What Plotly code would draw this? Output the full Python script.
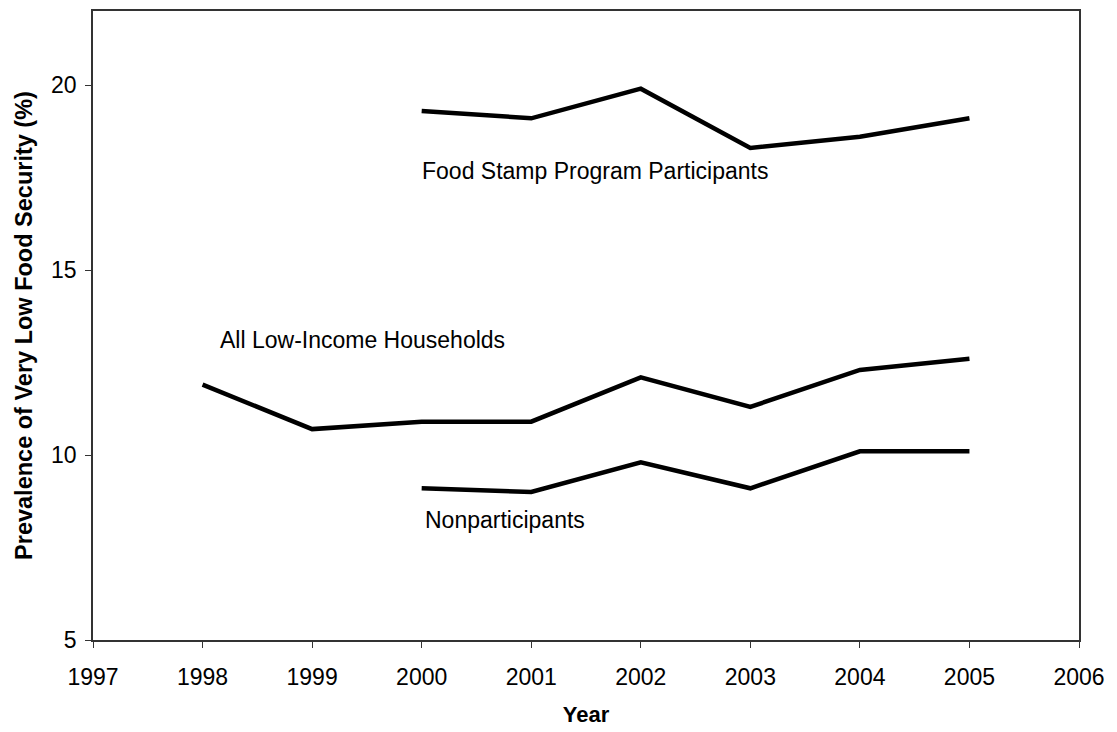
import plotly.graph_objects as go

# Prevalence of very low food security (%) by year
years_all = [1998, 1999, 2000, 2001, 2002, 2003, 2004, 2005]
all_low_income = [11.9, 10.7, 10.9, 10.9, 12.1, 11.3, 12.3, 12.6]

years_fsp = [2000, 2001, 2002, 2003, 2004, 2005]
fsp_participants = [19.3, 19.1, 19.9, 18.3, 18.6, 19.1]
nonparticipants = [9.1, 9.0, 9.8, 9.1, 10.1, 10.1]

x_ticks = list(range(1997, 2007))
y_ticks = [5, 10, 15, 20]

FONT = "Liberation Sans, Arial, sans-serif"
line_style = dict(color="black", width=4.5)

fig = go.Figure()
fig.add_trace(go.Scatter(x=years_fsp, y=fsp_participants, mode="lines",
                         line=line_style, name="Food Stamp Program Participants"))
fig.add_trace(go.Scatter(x=years_all, y=all_low_income, mode="lines",
                         line=line_style, name="All Low-Income Households"))
fig.add_trace(go.Scatter(x=years_fsp, y=nonparticipants, mode="lines",
                         line=line_style, name="Nonparticipants"))

labels = [
    ("Food Stamp Program Participants", 2000.0, 17.67),
    ("All Low-Income Households", 1998.16, 13.11),
    ("Nonparticipants", 2000.03, 8.23),
]
for text, x, y in labels:
    fig.add_annotation(x=x, y=y, text=text, showarrow=False, xanchor="left",
                       yanchor="middle", xshift=-2,
                       font=dict(family=FONT, size=23, color="black"))

axis_common = dict(
    showgrid=False, zeroline=False, showline=True, linecolor="#333333", linewidth=1.5,
    mirror=True, ticks="outside", ticklen=6, tickcolor="#333333", tickwidth=1,
    tickfont=dict(family=FONT, size=23, color="black"),
)

fig.update_xaxes(range=[1997, 2006], tickvals=x_ticks, ticktext=[str(t) for t in x_ticks],
                 ticklabelstandoff=10,
                 title=dict(text="<b>Year</b>", font=dict(family=FONT, size=22, color="black"),
                            standoff=17),
                 **axis_common)
fig.update_yaxes(range=[5, 22], tickvals=y_ticks, ticktext=[str(t) for t in y_ticks],
                 ticklabelstandoff=4,
                 title=dict(text="<b>Prevalence of Very Low Food Security (%)</b>",
                            font=dict(family=FONT, size=23.5, color="black"), standoff=12),
                 **axis_common)

fig.update_layout(
    width=1117, height=732, showlegend=False,
    paper_bgcolor="white", plot_bgcolor="white",
    margin=dict(l=93, r=38, t=9, b=90),
    font=dict(family=FONT),
)

fig.write_html("out.html")
